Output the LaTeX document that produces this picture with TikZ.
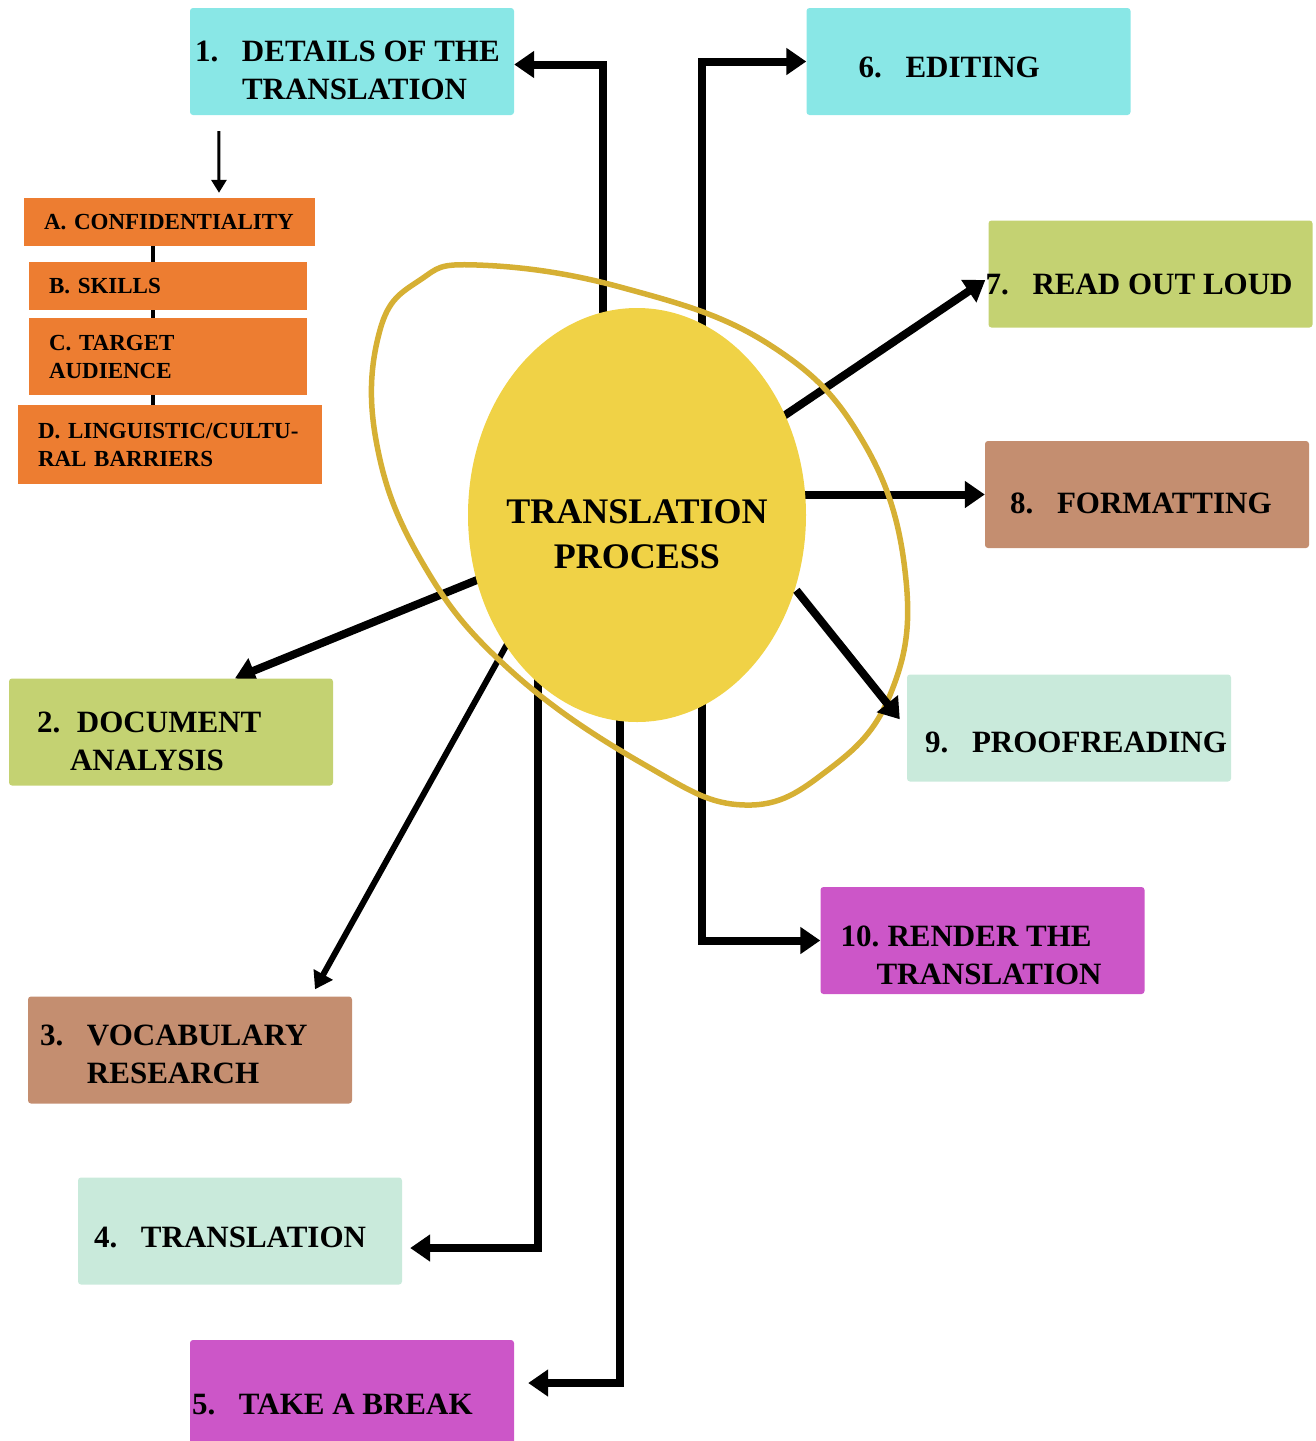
\documentclass[tikz,border=0pt]{standalone}
\usepackage{fontspec}
\setmainfont{Liberation Serif}
\usetikzlibrary{arrows.meta,shapes.geometric,backgrounds,calc}

\definecolor{cyanbox}{RGB}{137,231,230}
\definecolor{olivebox}{RGB}{196,210,114}
\definecolor{brownbox}{RGB}{196,142,112}
\definecolor{mintbox}{RGB}{201,234,219}
\definecolor{magentabox}{RGB}{204,86,200}
\definecolor{orangebox}{RGB}{237,125,49}
\definecolor{coreyellow}{RGB}{240,210,70}
\definecolor{ringgold}{RGB}{214,176,52}

\newcommand{\boxfont}{\fontsize{31}{38}\selectfont\bfseries}
\newcommand{\subfont}{\fontsize{23}{28}\selectfont\bfseries}
\newcommand{\corefont}{\fontsize{36}{45}\selectfont\bfseries}
\newcommand{\stepitem}[3][47pt]{\makebox[#1][l]{#2}\begin{tabular}[t]{@{}l@{}}#3\end{tabular}}

\begin{document}
\begin{tikzpicture}[x=1pt,y=-1pt,
	stepbox/.style={rectangle,rounded corners=3pt,minimum width=324pt,minimum height=107pt,inner sep=0pt},
	steptext/.style={anchor=west,inner sep=0pt,font=\boxfont},
	subbox/.style={rectangle,fill=orangebox,inner xsep=20pt,inner ysep=0pt,align=left,font=\subfont},
	flow/.style={line width=8pt,-{Triangle[length=20pt,width=26pt]}},
	pointer/.style={line width=3pt,-{Triangle[length=13pt,width=15pt]}}]

	\useasboundingbox (0,0) rectangle (1316,1441);

	%centre of the process
	\node[ellipse,fill=coreyellow,minimum width=338pt,minimum height=414pt,inner sep=0pt,
		label={[font=\corefont,align=center,yshift=-19.5pt]center:TRANSLATION\\PROCESS}] (core) at (637,515) {};

	%steps on the left
	\node[stepbox,fill=cyanbox,label={[steptext,xshift=5pt,yshift=-11.5pt]west:{\stepitem{1.}{DETAILS OF THE\\TRANSLATION}}}] (s1) at (352,61.5) {};
	\node[stepbox,fill=olivebox,label={[steptext,xshift=28pt,yshift=-12pt]west:{\stepitem[40pt]{2.}{DOCUMENT\\\hspace*{-7pt}ANALYSIS}}}] (s2) at (171,732) {};
	\node[stepbox,fill=brownbox,label={[steptext,xshift=12pt,yshift=-6.7pt]west:{\stepitem{3.}{VOCABULARY\\RESEARCH}}}] (s3) at (190,1050) {};
	\node[stepbox,fill=mintbox,label={[steptext,xshift=16pt,yshift=-8.7pt]west:{\stepitem{4.}{TRANSLATION}}}] (s4) at (240,1231) {};
	\node[stepbox,fill=magentabox,label={[steptext,xshift=2pt,yshift=-13pt]west:{\stepitem{5.}{TAKE A BREAK}}}] (s5) at (352,1393.5) {};

	%steps on the right
	\node[stepbox,fill=cyanbox,label={[steptext,xshift=52pt,yshift=-8pt]west:{\stepitem{6.}{EDITING}}}] (s6) at (968.5,61.5) {};
	\node[stepbox,fill=olivebox,label={[steptext,xshift=-3pt,yshift=-12.7pt]west:{\stepitem{7.}{READ OUT LOUD}}}] (s7) at (1150.5,274) {};
	\node[stepbox,fill=brownbox,label={[steptext,xshift=25pt,yshift=-11pt]west:{\stepitem{8.}{FORMATTING}}}] (s8) at (1147,494.5) {};
	\node[stepbox,fill=mintbox,label={[steptext,xshift=18pt,yshift=-16.7pt]west:{\stepitem{9.}{PROOFREADING}}}] (s9) at (1069,728) {};
	\node[stepbox,fill=magentabox,label={[steptext,xshift=20pt,yshift=-17.5pt]west:{\stepitem{10.}{RENDER THE\\\hspace*{-11pt}TRANSLATION}}}] (s10) at (982.5,940.5) {};

	%details of step 1
	\node[subbox,minimum width=291pt,text width=251pt,minimum height=48pt] (a) at (169.5,222) {A. CONFIDENTIALITY};
	\node[subbox,minimum width=278pt,text width=238pt,minimum height=48pt] (b) at (168,286) {B. SKILLS};
	\node[subbox,minimum width=278pt,text width=238pt,minimum height=77pt] (c) at (168,356.5) {C. TARGET\\AUDIENCE};
	\node[subbox,minimum width=304pt,text width=264pt,minimum height=79pt] (d) at (170,444.5) {D. LINGUISTIC/CULTU-\\RAL BARRIERS};

	\coordinate (p3) at ([xshift=125pt,yshift=7pt]s3.north);
	\coordinate (p9) at ([xshift=-7pt,yshift=-45pt]s9.north west);

	%arrows out of the centre
	\begin{scope}[on background layer]
		\draw[flow] ([xshift=-34pt]core.center) |- ([yshift=-3pt]s1.east);
		\draw[flow] ([xshift=65pt]core.center) |- (s6.west);
		\draw[flow] (core.center) -- ([xshift=-3pt,yshift=-6pt]s7.west);
		\draw[flow] (core.center |- s8.west) -- (s8.west);
		\draw[flow] ([xshift=65pt]core.center) |- (s10.west);
		\draw[flow] (core.center) -- ([xshift=64pt]s2.north);
		\draw[flow,line width=6pt,-{Triangle[length=17pt,width=21pt]}] ($(core.225)!-12pt!(p3)$) -- (p3);
		\draw[flow] ([xshift=-99pt]core.center) |- ([xshift=8pt,yshift=-17pt]s4.east);
		\draw[flow] ([xshift=-17pt]core.center) |- ([xshift=14pt,yshift=10.5pt]s5.east);
		%chain of the details
		\draw[line width=4pt] ([xshift=-16.5pt]a.center) -- ([xshift=-16.5pt]a.center |- d.center);
	\end{scope}

	%ring round the centre
	\draw[ringgold,line width=5.5pt] plot[smooth cycle,tension=0.7] coordinates {
		(477,265) (620,287) (770,345) (865,445) (906,580) (890,695) (828,770) (745,805)
		(645,765) (510,670) (422,562) (376,440) (380,330) (420,280)};

	\draw[flow] ($(core.-25)!2pt!(p9)$) -- (p9);

	\draw[pointer] ([xshift=29pt,yshift=-16pt]s1.south west) -- ([xshift=49.5pt,yshift=5pt]a.north);

\end{tikzpicture}
\end{document}
